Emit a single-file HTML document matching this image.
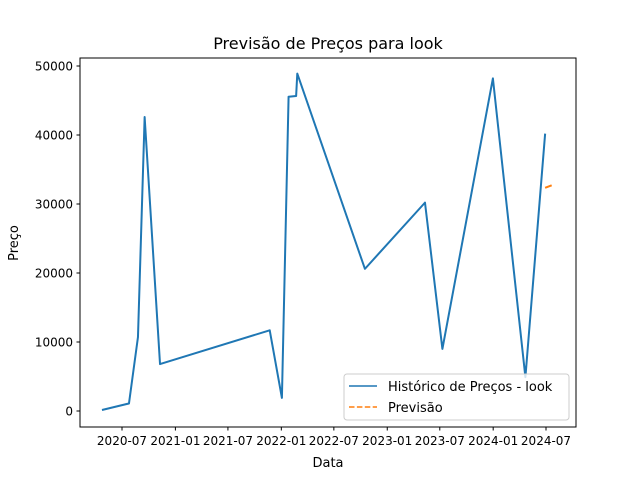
<!DOCTYPE html>
<html><head><meta charset="utf-8"><style>
body{margin:0;background:#fff;}
svg{font-family:"DejaVu Sans","Liberation Sans",sans-serif;}
</style></head><body>
<svg id="chart" width="640" height="480">
<rect width="640" height="480" fill="#fff"/>
<text x="328" y="49" text-anchor="middle" font-size="16">Previsão de Preços para look</text>
<g id="plot"></g>
<rect x="80" y="58" width="496" height="369" fill="none" stroke="#000" stroke-width="1"/>
<text x="328" y="467" text-anchor="middle" font-size="13">Data</text>
<text transform="translate(18,243) rotate(-90)" text-anchor="middle" font-size="13">Preço</text>
<g>
<rect x="344" y="374" width="225" height="46" rx="3" fill="#fff" fill-opacity="0.8" stroke="#ccc"/>
<line x1="349" y1="386" x2="377" y2="386" stroke="#1f77b4" stroke-width="1.5"/>
<text x="388" y="391" font-size="13">Histórico de Preços - look</text>
<line x1="349" y1="407" x2="377" y2="407" stroke="#ff7f0e" stroke-width="1.5" stroke-dasharray="5.5,2.4"/>
<text x="388" y="412" font-size="13">Previsão</text>
</g>
</svg>
<script>
const histDates=["2020-04-23","2020-07-25","2020-08-25","2020-09-17","2020-11-09","2021-11-22","2022-01-03","2022-01-26","2022-02-21","2022-02-25","2022-10-16","2023-05-11","2023-07-10","2023-12-31","2024-04-21","2024-06-28"];
const histValues=[145,1090,10700,42600,6800,11700,1900,45550,45650,48900,20600,30200,9000,48200,4900,40200];
const fcDates=["2024-06-28","2024-07-23"];
const fcValues=[32350,32750];
const xTickLabels=["2020-07","2021-01","2021-07","2022-01","2022-07","2023-01","2023-07","2024-01","2024-07"];
const yTickValues=[0,10000,20000,30000,40000,50000];

const NS="http://www.w3.org/2000/svg";
const t0=Date.parse("2020-07-01"),t1=Date.parse("2024-07-01");
function xs(d){return 122+(Date.parse(d.length===7?d+"-01":d)-t0)/(t1-t0)*424;}
function ys(v){return 411-v*0.0069;}
const plot=document.getElementById("plot");
function mk(tag,attrs){const e=document.createElementNS(NS,tag);for(const k in attrs)e.setAttribute(k,attrs[k]);plot.appendChild(e);return e;}
xTickLabels.forEach(l=>{
  const x=xs(l);
  const t=mk("line",{x1:x,x2:x,y1:427,y2:430.5,stroke:"#000"});
  
  
  const tx=mk("text",{x:x,y:445,"text-anchor":"middle","font-size":"12"});
  tx.textContent=l;
  
  
});
yTickValues.forEach(v=>{
  const y=ys(v);
  const t=mk("line",{x1:76.5,x2:80,y1:y,y2:y,stroke:"#000"});
  
  
  const tx=mk("text",{x:73,y:y+4.5,"text-anchor":"end","font-size":"12"});
  tx.textContent=String(v);
  
  
});
const hp=mk("polyline",{points:histDates.map((d,i)=>xs(d)+","+ys(histValues[i])).join(" "),fill:"none",stroke:"#1f77b4","stroke-width":"2","stroke-linejoin":"round"});


const fp=mk("polyline",{points:fcDates.map((d,i)=>xs(d)+","+ys(fcValues[i])).join(" "),fill:"none",stroke:"#ff7f0e","stroke-width":"2","stroke-dasharray":"7,3"});


</script>
</body></html>
